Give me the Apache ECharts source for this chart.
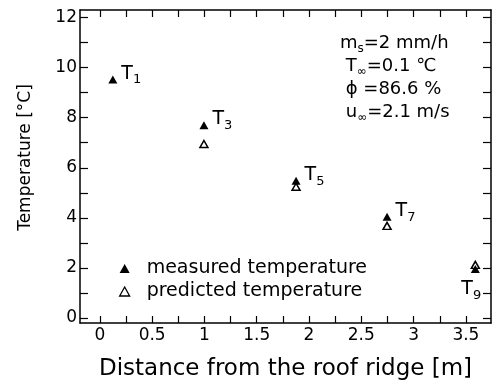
<!DOCTYPE html>
<html>
<head>
<meta charset="utf-8">
<script src="https://cdn.jsdelivr.net/npm/echarts@6/dist/echarts.min.js"></script>
<style>html,body{margin:0;padding:0;background:#fff}#c{width:493px;height:389px}</style>
</head>
<body>
<div id="c"></div>
<script>
// ---- data ----
const pointNames = ['1', '3', '5', '7', '9'];
const distance = [0.124, 0.995, 1.876, 2.746, 3.59];
const measuredTemp = [9.52, 7.7, 5.48, 4.04, 1.96];
const predictedTemp = [null, 6.95, 5.24, 3.68, 2.12];
const xTickValues = [0, 0.25, 0.5, 0.75, 1, 1.25, 1.5, 1.75, 2, 2.25, 2.5, 2.75, 3, 3.25, 3.5];
const xLabelValues = [0, 0.5, 1, 1.5, 2, 2.5, 3, 3.5];
const yTickValues = [0, 1, 2, 3, 4, 5, 6, 7, 8, 9, 10, 11, 12];
const yLabelValues = [0, 2, 4, 6, 8, 10, 12];

const FONT = 'DejaVu Sans';
const chart = echarts.init(document.getElementById('c'));

const measuredData = distance.map((x, i) => ({
  value: [x, measuredTemp[i]],
  label: {
    show: true,
    formatter: '{t|T}{s|' + pointNames[i] + '}',
    position: i === distance.length - 1 ? 'bottom' : 'right',
    offset: i === distance.length - 1 ? [-4, -2] : [-1, -6],
    rich: {
      t: { fontFamily: FONT, fontSize: 19, color: '#000', lineHeight: 26, verticalAlign: 'middle' },
      s: { fontFamily: FONT, fontSize: 13, color: '#000', lineHeight: 26, verticalAlign: 'bottom' }
    }
  }
}));
const predictedData = [];
distance.forEach((x, i) => { if (predictedTemp[i] !== null) predictedData.push([x, predictedTemp[i]]); });

const baseX = {
  type: 'value', min: -0.19, max: 3.74,
  axisLine: { show: true, onZero: false, lineStyle: { color: '#000', width: 1.5 } },
  splitLine: { show: false },
  axisTick: { show: true, inside: true, length: 7, customValues: xTickValues, lineStyle: { color: '#000', width: 1.2 } }
};
const baseY = {
  type: 'value', min: -0.2, max: 12.3,
  axisLine: { show: true, onZero: false, lineStyle: { color: '#000', width: 1.5 } },
  splitLine: { show: false },
  axisTick: { show: true, inside: true, length: 8, customValues: yTickValues, lineStyle: { color: '#000', width: 1.2 } }
};

chart.setOption({
  animation: false,
  backgroundColor: '#fff',
  grid: { left: 80, top: 10, right: 2, bottom: 66, containLabel: false, outerBoundsMode: 'none' },
  xAxis: [
    Object.assign({}, baseX, {
      position: 'bottom',
      name: 'Distance from the roof ridge [m]',
      nameLocation: 'middle', nameGap: 35,
      nameTextStyle: { fontFamily: FONT, fontSize: 23, color: '#000' },
      axisLabel: { show: true, customValues: xLabelValues, margin: 4, fontFamily: FONT, fontSize: 17, color: '#000' }
    }),
    Object.assign({}, baseX, { position: 'top', axisLabel: { show: false } })
  ],
  yAxis: [
    Object.assign({}, baseY, {
      position: 'left',
      name: 'Temperature [°C]',
      nameLocation: 'middle', nameGap: 46,
      nameTextStyle: { fontFamily: FONT, fontSize: 17, color: '#000', padding: [0, 0, 0, 18] },
      axisLabel: { show: true, customValues: yLabelValues, margin: 3, fontFamily: FONT, fontSize: 17, color: '#000' }
    }),
    Object.assign({}, baseY, { position: 'right', axisLabel: { show: false } })
  ],
  legend: {
    orient: 'vertical', left: 114, top: 254, itemGap: 4,
    itemWidth: 10, itemHeight: 9,
    textStyle: { fontFamily: FONT, fontSize: 19, color: '#000', padding: [0, 0, 0, 12] },
    data: [
      { name: 'measured temperature' },
      { name: 'predicted temperature', itemStyle: { borderWidth: 1.3 } }
    ]
  },
  graphic: [{
    type: 'text', left: 340, top: 34,
    style: {
      text: '{m|m}{s|s}{m|=2 mm/h}\n{m| T}{s|∞}{m|=0.1 ℃}\n{m| ϕ =86.6 %}\n{m| u}{s|∞}{m|=2.1 m/s}',
      rich: {
        m: { fontFamily: FONT, fontSize: 18, fill: '#000', lineHeight: 23, verticalAlign: 'middle' },
        s: { fontFamily: FONT, fontSize: 12, fill: '#000', lineHeight: 23, verticalAlign: 'bottom' }
      }
    }
  }],
  series: [
    {
      name: 'predicted temperature', type: 'scatter', symbol: 'triangle', symbolSize: [8, 7],
      itemStyle: { color: '#fff', borderColor: '#000', borderWidth: 1.5, opacity: 1 },
      data: predictedData, z: 2
    },
    {
      name: 'measured temperature', type: 'scatter', symbol: 'triangle', symbolSize: [9, 8],
      itemStyle: { color: '#000', opacity: 1 },
      data: measuredData, z: 3
    }
  ]
});
</script>
</body>
</html>
